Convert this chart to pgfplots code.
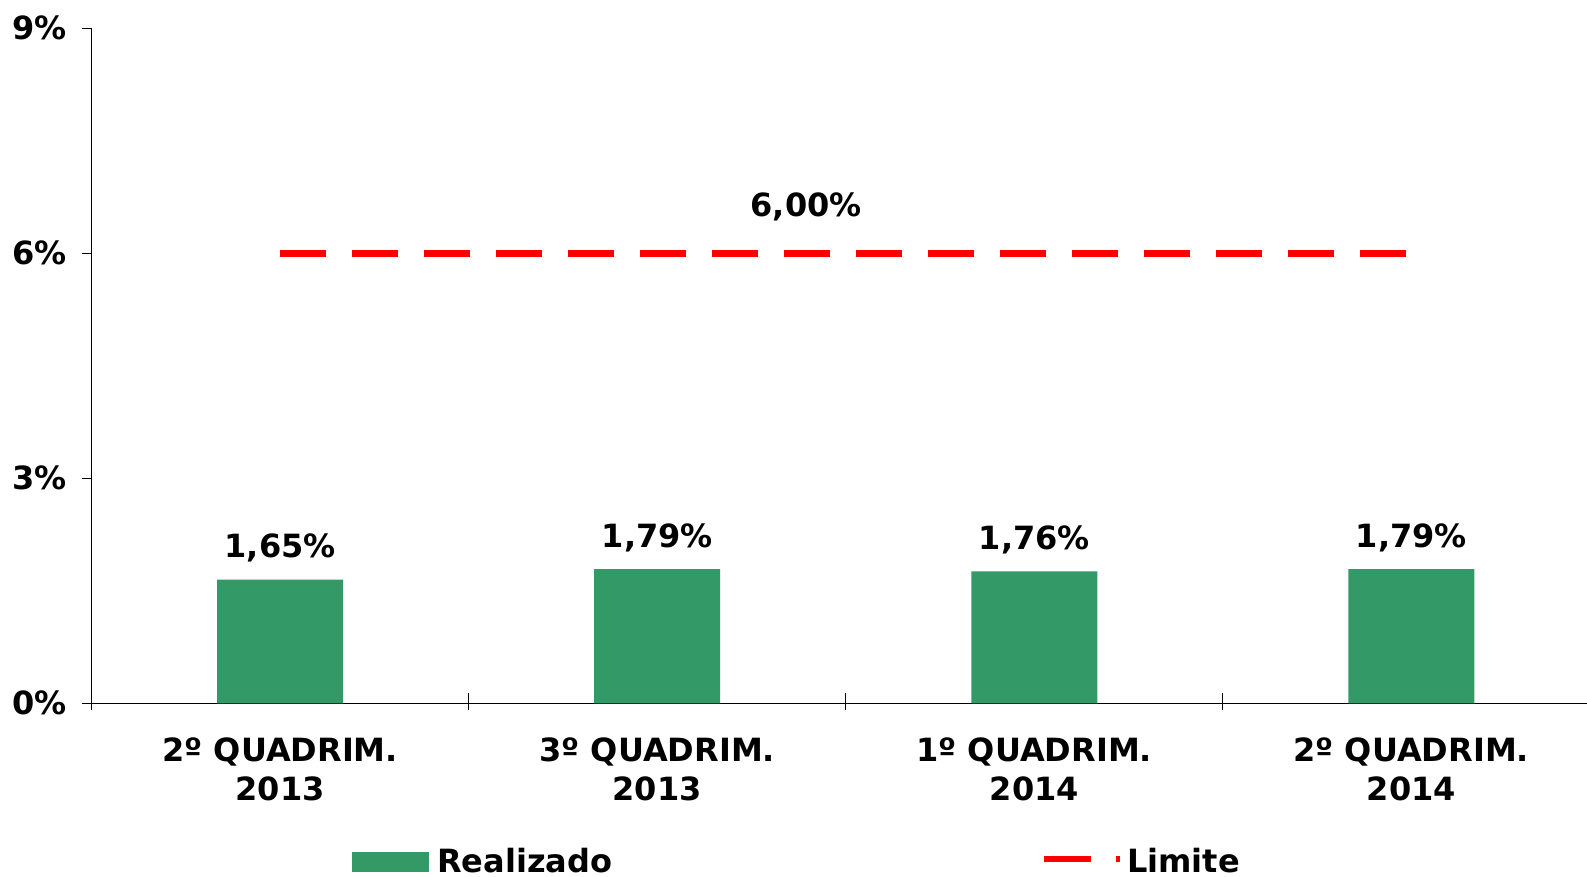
\documentclass[border=0pt]{standalone}
\usepackage{pgfplots}
\pgfplotsset{compat=1.18}
\usepackage{fontspec}
\setmainfont{DejaVu Sans}
\definecolor{barg}{RGB}{51,153,102}
\begin{document}
\begin{tikzpicture}
\begin{axis}[
  scale only axis, width=747.65pt, height=337.5pt,
  at={(0,0)}, anchor=south west,
  xmin=-0.5, xmax=3.466, ymin=0, ymax=9,
  axis x line=bottom, axis y line=left,
  axis line style={-, line width=0.5pt, black},
  tick align=outside,
  xtick={0,1,2,3},
  xticklabels={{2º QUADRIM.\\2013},{3º QUADRIM.\\2013},{1º QUADRIM.\\2014},{2º QUADRIM.\\2014}},
  major x tick style={draw=none},
  minor xtick={-0.5,0.5,1.5,2.5},
  minor tick length=8.5pt,
  minor x tick style={line width=0.5pt, black, yshift=5pt},
  ytick={0,3,6,9},
  yticklabels={0\%,3\%,6\%,9\%},
  major tick length=5pt,
  y tick style={line width=0.5pt, black},
  xticklabel style={font=\fontsize{16}{19.5}\selectfont\bfseries, align=center, yshift=-8.5pt},
  yticklabel style={font=\fontsize{16}{19}\selectfont\bfseries, xshift=-4pt},
  legend columns=2,
  legend style={at={(axis description cs:0.174,-0.235)}, anchor=west, draw=none, fill=none, inner sep=0pt,
    font=\fontsize{16}{19}\selectfont\bfseries,
    /tikz/every even column/.append style={column sep=212.5pt}},
  clip=false,
]
\addplot[ybar, bar width=63pt, fill=barg, draw=none,
  nodes near coords={\pgfmathprintnumber[assume math mode=true, fixed, fixed zerofill, precision=2, use comma]{\pgfplotspointmeta}\%},
  every node near coord/.append style={font=\fontsize{16}{19}\selectfont\bfseries, black, yshift=5pt},
  legend image code/.code={\fill[barg] (0pt,-5pt) rectangle (38.5pt,5pt); \path (40.5pt,0pt);}]
  coordinates {(0,1.65) (1,1.79) (2,1.76) (3,1.79)};
\addlegendentry{Realizado}
\addplot[red, line width=3.5pt, dash pattern=on 23pt off 13pt,
  legend image code/.code={\draw[red, line width=3pt, dash pattern=on 23.5pt off 12.5pt] (0pt,1.5pt) -- (38pt,1.5pt);}]
  coordinates {(0,6) (3,6)};
\addlegendentry{Limite}
\node[font=\fontsize{16}{19}\selectfont\bfseries, anchor=base, yshift=18.5pt] at (axis cs:1.395,6) {6,00\%};
\end{axis}
\pgfresetboundingbox
\useasboundingbox (-45.85pt,-86.85pt) rectangle (747.65pt,351.65pt);
\end{tikzpicture}
\end{document}
